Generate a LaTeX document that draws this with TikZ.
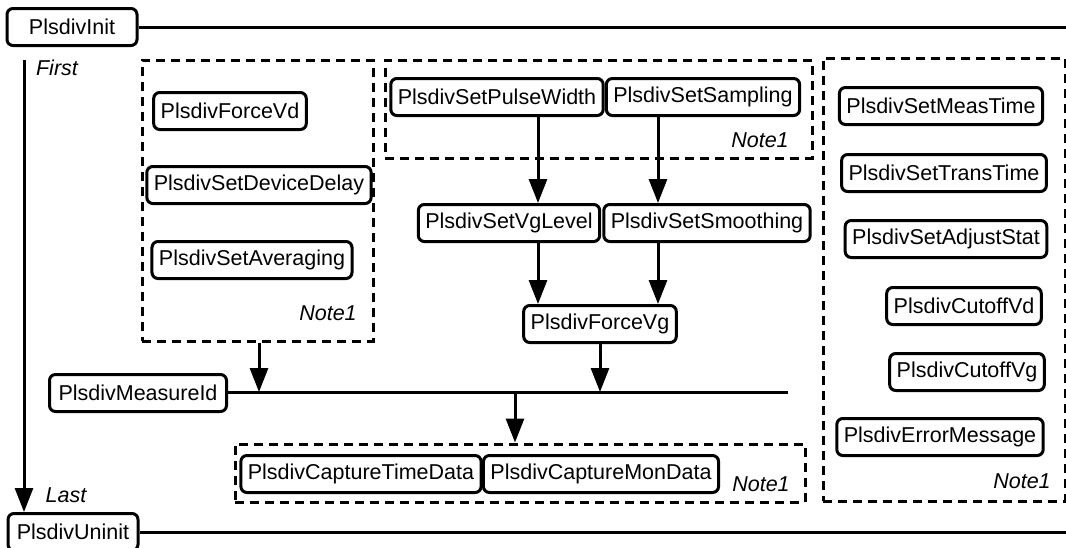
\documentclass[tikz,border=0pt]{standalone}
\usepackage{fontspec}
\setmainfont{Liberation Sans}
\usepackage{tikz}
\usetikzlibrary{arrows.meta, positioning, fit}

\begin{document}
\begin{tikzpicture}[
    x=0.5pt, y=-0.5pt,
    fn/.style={draw, rounded corners=3pt, line width=1.5pt, minimum height=18.5pt,
        inner xsep=3.5pt, inner ysep=0pt, font=\fontsize{10.75}{13}\selectfont},
    note/.style={font=\fontsize{10.75}{13}\selectfont\itshape, inner sep=0pt},
    group/.style={draw, line width=1.5pt, dash pattern=on 4.5pt off 3pt, inner sep=0pt},
    >={Triangle[length=12pt, width=9pt]},
    line width=1.5pt,
]
    \useasboundingbox (0,0) rectangle (1066,547);

    \node[fn, minimum width=65pt] (init) at (72,27) {PlsdivInit};
    \node[fn, minimum width=65pt] (uninit) at (73,532) {PlsdivUninit};
    \node[fn, minimum width=88.5pt] (measid) at (138,393) {PlsdivMeasureId};
    \node[note] (first) at (57,68) {First};
    \node[note] (last) at (66,495) {Last};

    % left group
    \node[fn] (forcevd) at (230,111) {PlsdivForceVd};
    \node[fn] (devdelay) at (259,185) {PlsdivSetDeviceDelay};
    \node[fn] (setavg) at (252,260) {PlsdivSetAveraging};
    \node[note] (noteA) at (328,313) {Note1};
    \node[group, fit={(142,60) (373,341)}] (leftgrp) {};

    % top group
    \node[fn] (pulsew) at (497,97) {PlsdivSetPulseWidth};
    \node[fn] (setsamp) at (703,97) {PlsdivSetSampling};
    \node[note] (noteB) at (760,140) {Note1};
    \node[group, fit={(385,60) (812,158)}] (topgrp) {};

    \node[fn] (vglevel) at (509,223) {PlsdivSetVgLevel};
    \node[fn] (smooth) at (707,223) {PlsdivSetSmoothing};
    \node[fn] (forcevg) at (600,324) {PlsdivForceVg};

    % bottom group
    \node[fn] (capttime) at (361,474) {PlsdivCaptureTimeData};
    \node[fn] (captmon) at (601,474) {PlsdivCaptureMonData};
    \node[note] (noteC) at (761,484) {Note1};
    \node[group, fit={(235,444) (805,502)}] (botgrp) {};

    % right group
    \node[fn] (meastime) at (941,106) {PlsdivSetMeasTime};
    \node[fn] (transtime) at (944,173) {PlsdivSetTransTime};
    \node[fn] (adjstat) at (946,239) {PlsdivSetAdjustStat};
    \node[fn] (cutvd) at (964,306) {PlsdivCutoffVd};
    \node[fn] (cutvg) at (967,372) {PlsdivCutoffVg};
    \node[fn] (errmsg) at (940,437) {PlsdivErrorMessage};
    \node[note] (noteD) at (1022,481) {Note1};
    \node[group, fit={(823,58) (1065,501)}] (rightgrp) {};

    \coordinate (initend) at (1066,27);
    \coordinate (uninitend) at (1066,532);
    \coordinate (seqtop) at (24,60);
    \coordinate (busend) at (788,392);
    \coordinate (b1) at (259,392);
    \coordinate (b2) at (600,392);
    \coordinate (b3) at (515,392);
    \coordinate (c1) at (538,0);
    \coordinate (c2) at (658,0);

    \draw (init) -- (initend);
    \draw (uninit) -- (uninitend);
    \draw[->] (seqtop) -- (seqtop |- uninit.north);
    \draw (measid.east |- busend) -- (busend);

    \draw[->] (pulsew.south -| c1) -- (vglevel.north -| c1);
    \draw[->] (setsamp.south -| c2) -- (smooth.north -| c2);
    \draw[->] (vglevel.south -| c1) -- (forcevg.north -| c1);
    \draw[->] (smooth.south -| c2) -- (forcevg.north -| c2);
    \draw[->] (forcevg.south -| b2) -- (b2);
    \draw[->] (leftgrp.south -| b1) -- (b1);
    \draw[->] (b3) -- (botgrp.north -| b3);
\end{tikzpicture}
\end{document}
